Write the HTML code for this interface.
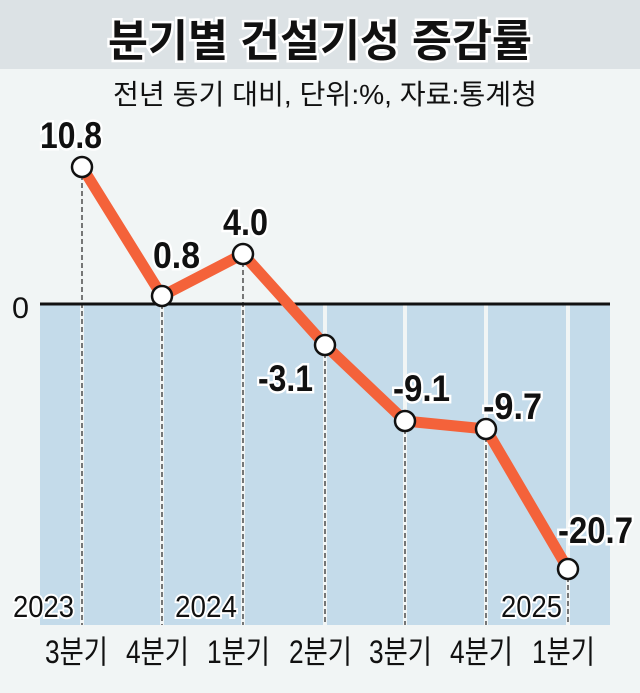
<!DOCTYPE html><html><head><meta charset="utf-8"><style>
body{margin:0;width:640px;height:688px;background:#f1f5f5;overflow:hidden}
svg text{font-family:"Liberation Sans","Noto Sans CJK KR",sans-serif}
</style></head><body>
<svg width="640" height="688" xmlns="http://www.w3.org/2000/svg">
<rect x="0" y="0" width="640" height="69" fill="#dce2e5"/>
<text x="108" y="56" textLength="424" lengthAdjust="spacingAndGlyphs" font-size="44" font-weight="bold" fill="#111" stroke="#fff" stroke-width="5" paint-order="stroke" font-family="Noto Sans CJK KR">분기별 건설기성 증감률</text>
<text x="113" y="104" textLength="424" lengthAdjust="spacingAndGlyphs" font-size="28" fill="#111" font-family="Noto Sans CJK KR">전년 동기 대비,  단위:%,  자료:통계청</text>
<rect x="40" y="305" width="570" height="320" fill="#c4dbea"/>
<g stroke="#f1f5f5" stroke-width="4">
<line x1="82" y1="305" x2="82" y2="625"/><line x1="162" y1="305" x2="162" y2="625"/><line x1="243" y1="305" x2="243" y2="625"/><line x1="325" y1="305" x2="325" y2="625"/><line x1="405" y1="305" x2="405" y2="625"/><line x1="486" y1="305" x2="486" y2="625"/><line x1="568" y1="305" x2="568" y2="625"/>
</g>
<g stroke="#333" stroke-width="1.3" stroke-dasharray="5,3">
<line x1="82" y1="167" x2="82" y2="625"/><line x1="162" y1="296" x2="162" y2="625"/><line x1="243" y1="254" x2="243" y2="625"/><line x1="325" y1="345" x2="325" y2="625"/><line x1="405" y1="421" x2="405" y2="625"/><line x1="486" y1="429" x2="486" y2="625"/><line x1="568" y1="569" x2="568" y2="625"/>
</g>
<line x1="40" y1="304" x2="610" y2="304" stroke="#111" stroke-width="3"/>
<text x="12" y="318" textLength="17" lengthAdjust="spacingAndGlyphs" font-size="30" fill="#111">0</text>
<polyline points="82,167 162,296 243,254 325,345 405,421 486,429 568,569" fill="none" stroke="#f4623a" stroke-width="11" stroke-linejoin="round"/>
<g fill="#fff" stroke="#111" stroke-width="2.5">
<circle cx="82" cy="167" r="10"/><circle cx="162" cy="296" r="10"/><circle cx="243" cy="254" r="10"/><circle cx="325" cy="345" r="10"/><circle cx="405" cy="421" r="10"/><circle cx="486" cy="429" r="10"/><circle cx="568" cy="569" r="10"/>
</g>
<g font-size="37" font-weight="bold" fill="#111" stroke="#fff" stroke-width="5" paint-order="stroke">
<text x="40" y="148" textLength="62" lengthAdjust="spacingAndGlyphs">10.8</text>
<text x="153" y="268" textLength="47" lengthAdjust="spacingAndGlyphs">0.8</text>
<text x="223" y="235" textLength="45" lengthAdjust="spacingAndGlyphs">4.0</text>
<text x="258" y="391" textLength="55" lengthAdjust="spacingAndGlyphs">-3.1</text>
<text x="393" y="401" textLength="57" lengthAdjust="spacingAndGlyphs">-9.1</text>
<text x="483" y="419" textLength="59" lengthAdjust="spacingAndGlyphs">-9.7</text>
<text x="558" y="543" textLength="75" lengthAdjust="spacingAndGlyphs">-20.7</text>
</g>
<g font-size="31" fill="#111" stroke="#fff" stroke-width="4" paint-order="stroke">
<text x="13" y="617" textLength="61" lengthAdjust="spacingAndGlyphs">2023</text><text x="175" y="617" textLength="62" lengthAdjust="spacingAndGlyphs">2024</text><text x="501" y="617" textLength="61" lengthAdjust="spacingAndGlyphs">2025</text>
</g>
<g font-size="32" fill="#111" font-family="Noto Sans CJK KR">
<text x="45" y="663" textLength="63" lengthAdjust="spacingAndGlyphs">3분기</text><text x="126" y="663" textLength="63" lengthAdjust="spacingAndGlyphs">4분기</text><text x="207" y="663" textLength="63" lengthAdjust="spacingAndGlyphs">1분기</text><text x="289" y="663" textLength="63" lengthAdjust="spacingAndGlyphs">2분기</text><text x="369" y="663" textLength="63" lengthAdjust="spacingAndGlyphs">3분기</text><text x="450" y="663" textLength="63" lengthAdjust="spacingAndGlyphs">4분기</text><text x="532" y="663" textLength="63" lengthAdjust="spacingAndGlyphs">1분기</text>
</g>
</svg>
</body></html>
